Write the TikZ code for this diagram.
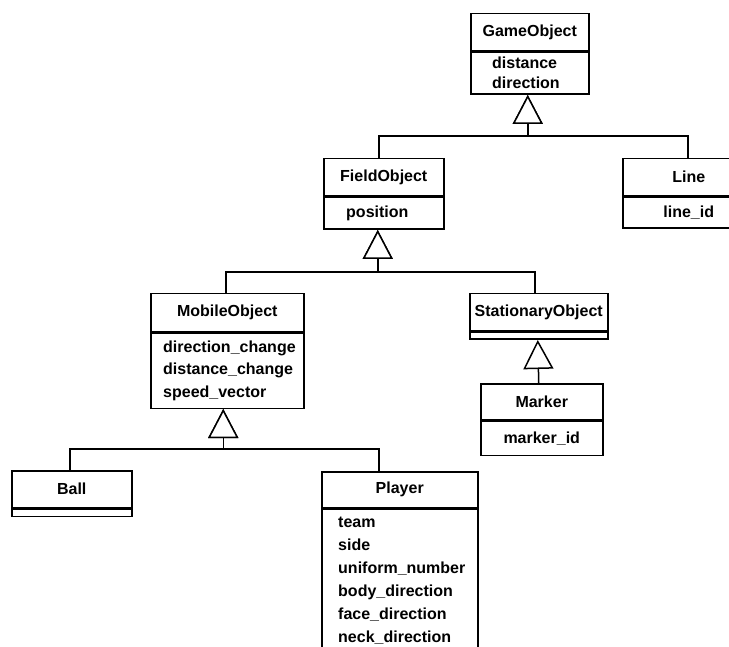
\documentclass[tikz,border=0pt]{standalone}
\usepackage{fontspec}
\setmainfont{Liberation Sans}
\usetikzlibrary{arrows.meta}
\begin{document}
\begin{tikzpicture}[x=1pt,y=-1pt,
  classname/.style={draw, line width=1.5pt, inner sep=0pt, minimum height=37pt,
    anchor=north west, font=\fontsize{16}{20}\selectfont\bfseries},
  attrbox/.style={draw, line width=1.5pt, inner sep=0pt, anchor=north west},
  attrtext/.style={inner sep=0pt, align=left, anchor=west},
  gen/.style={line width=1.5pt, -{Triangle[open, length=29pt, width=30pt, fill=white]}},
]
\useasboundingbox (0,0) rectangle (729,647);
\clip (0,0) rectangle (729,647);

% GameObject
\node[classname, minimum width=118pt] (go) at (470,13) {GameObject};
\node[attrbox, minimum width=118pt, minimum height=42pt] (goA) at (go.south west) {};
\node[attrtext, font=\fontsize{16}{20}\selectfont\bfseries] (goT) at ([xshift=22pt]goA.west) {distance\\direction};

% FieldObject
\node[classname, minimum width=120pt] (fo) at (323,158) {FieldObject};
\node[attrbox, minimum width=120pt, minimum height=32pt] (foA) at (fo.south west) {};
\node[attrtext, font=\fontsize{16}{20}\selectfont\bfseries] (foT) at ([xshift=23pt]foA.west) {position};

% Line
\node[classname, minimum width=132pt] (ln) at (622,158) {Line};
\node[attrbox, minimum width=132pt, minimum height=31pt] (lnA) at (ln.south west) {};
\node[inner sep=0pt, font=\fontsize{16}{20}\selectfont\bfseries] (lnT) at (lnA.center) {line\_id};

% MobileObject
\node[classname, minimum width=153pt, minimum height=38pt] (mo) at (150,293) {MobileObject};
\node[attrbox, minimum width=153pt, minimum height=75pt] (moA) at (mo.south west) {};
\node[attrtext, font=\fontsize{16}{22.5}\selectfont\bfseries] (moT) at ([xshift=13pt]moA.west) {direction\_change\\distance\_change\\speed\_vector};

% StationaryObject
\node[classname, minimum width=138pt] (so) at (469,293) {StationaryObject};
\node[attrbox, minimum width=138pt, minimum height=7pt] (soA) at (so.south west) {};

% Marker
\node[classname, minimum width=122pt, minimum height=36pt] (mk) at (480,383) {Marker};
\node[attrbox, minimum width=122pt, minimum height=34pt] (mkA) at (mk.south west) {};
\node[inner sep=0pt, font=\fontsize{16}{20}\selectfont\bfseries] (mkT) at (mkA.center) {marker\_id};

% Ball
\node[classname, minimum width=120pt] (ba) at (11,470) {Ball};
\node[attrbox, minimum width=120pt, minimum height=7pt] (baA) at (ba.south west) {};

% Player
\node[classname, minimum width=156pt, minimum height=36pt] (pl) at (321,471) {Player};
\node[attrbox, minimum width=156pt, minimum height=180pt] (plA) at (pl.south west) {};
\node[attrtext, anchor=north west, font=\fontsize{16}{23}\selectfont\bfseries] (plT)
  at ([xshift=17pt, yshift=-8pt]plA.north west)
  {team\\side\\uniform\_number\\body\_direction\\face\_direction\\neck\_direction};

% generalization buses
\coordinate (s1) at (379,136);
\coordinate (s2) at (688,136);
\coordinate (s3) at (226,272);
\coordinate (s4) at (535,272);
\coordinate (s5) at (70,449);
\coordinate (s6) at (379,449);

\draw[gen] (fo.north -| s1) -- (s1) -| ([xshift=-2pt]goA.south);
\draw[gen] (ln.north -| s2) -- (s2) -| ([xshift=-2pt]goA.south);
\draw[gen] (mo.north -| s3) -- (s3) -| ([xshift=-6pt]foA.south);
\draw[gen] (so.north -| s4) -- (s4) -| ([xshift=-6pt]foA.south);
\draw[gen] ([xshift=-3pt]mk.north) -- ([xshift=-1pt]soA.south);
\draw[gen] (ba.north -| s5) -- (s5) -| ([xshift=-4pt]moA.south);
\draw[gen] (pl.north -| s6) -- (s6) -| ([xshift=-4pt]moA.south);
\end{tikzpicture}
\end{document}
